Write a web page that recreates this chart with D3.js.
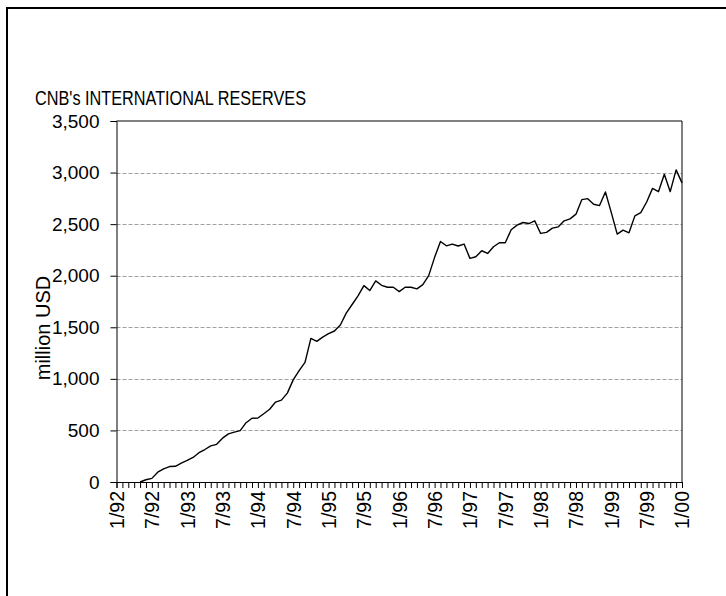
<!DOCTYPE html>
<html>
<head>
<meta charset="utf-8">
<script src="https://cdn.jsdelivr.net/npm/d3@7"></script>
<style>
  html, body { margin: 0; padding: 0; background: #fff; }
  svg { display: block; }
  text { font-family: "Liberation Sans", Arial, sans-serif; fill: #000; }
</style>
</head>
<body>
<svg id="chart" width="726" height="596"></svg>
<script>
// ---- data (monthly, 1/92 .. 1/00; null = no data) ----
const title = "CNB's INTERNATIONAL RESERVES";
const yTitle = "million USD";
const xTickLabels = ["1/92","7/92","1/93","7/93","1/94","7/94","1/95","7/95","1/96","7/96","1/97","7/97","1/98","7/98","1/99","7/99","1/00"];
const yTicks = [0, 500, 1000, 1500, 2000, 2500, 3000, 3500];
const reserves = [
  null, null, null, null, 0, 22, 35, 95, 128, 150,
  152, 183, 209, 238, 284, 315, 350, 365, 425, 466,
  483, 498, 575, 618, 620, 662, 705, 775, 794, 862,
  990, 1080, 1160, 1392, 1364, 1405, 1438, 1464, 1522, 1637,
  1721, 1805, 1904, 1856, 1950, 1907, 1888, 1888, 1846, 1888,
  1888, 1872, 1914, 2001, 2178, 2332, 2290, 2307, 2288, 2307,
  2168, 2184, 2242, 2216, 2281, 2320, 2320, 2446, 2490, 2516,
  2506, 2532, 2410, 2420, 2461, 2474, 2532, 2551, 2597, 2738,
  2747, 2693, 2680, 2812, 2612, 2403, 2442, 2416, 2580, 2612,
  2715, 2847, 2815, 2983, 2815, 3026, 2900
];

const svg = d3.select("#chart");
const plot = { left: 116.5, right: 682, top: 121, bottom: 482 };

const x = d3.scaleLinear().domain([0, reserves.length - 1]).range([plot.left, plot.right]);
const y = d3.scaleLinear().domain([0, 3500]).range([plot.bottom, plot.top]);

// outer frame (right / bottom edges fall outside the picture)
svg.append("rect")
  .attr("x", 7).attr("y", 8).attr("width", 760).attr("height", 640)
  .attr("fill", "none").attr("stroke", "#000").attr("stroke-width", 2);

// title
svg.append("text")
  .attr("x", 35).attr("y", 105)
  .attr("font-size", 21)
  .attr("textLength", 271).attr("lengthAdjust", "spacingAndGlyphs")
  .text(title);

// gridlines
svg.append("g")
  .selectAll("line")
  .data(yTicks.filter(d => d > 0 && d < 3500))
  .join("line")
  .attr("x1", plot.left).attr("x2", plot.right)
  .attr("y1", d => Math.round(y(d)) + 0.5).attr("y2", d => Math.round(y(d)) + 0.5)
  .attr("stroke", "#a0a0a0").attr("stroke-width", 1).attr("stroke-dasharray", "4,2");

// plot frame top + right
svg.append("line")
  .attr("x1", plot.left).attr("x2", plot.right)
  .attr("y1", y(3500)).attr("y2", y(3500))
  .attr("stroke", "#000").attr("stroke-width", 1);
svg.append("line")
  .attr("x1", plot.right).attr("x2", plot.right)
  .attr("y1", y(3500)).attr("y2", y(0))
  .attr("stroke", "#000").attr("stroke-width", 1);

// y axis
const yAxis = d3.axisLeft(y).tickValues(yTicks).tickSize(6).tickPadding(11)
  .tickFormat(d3.format(","));
const gy = svg.append("g").attr("transform", `translate(${plot.left},0)`).call(yAxis);
gy.select(".domain").attr("stroke", "#000");
gy.selectAll(".tick line").attr("stroke", "#000");
gy.selectAll("text").attr("font-size", 19).attr("font-family", "Liberation Sans, Arial, sans-serif").attr("fill", "#000");

// x axis (monthly ticks, labels every 6 months)
const xAxis = d3.axisBottom(x).tickValues(d3.range(0, reserves.length)).tickSize(6)
  .tickFormat(d => d % 6 === 0 ? xTickLabels[d / 6] : "");
const gx = svg.append("g").attr("transform", `translate(0,${plot.bottom})`).call(xAxis);
gx.select(".domain").attr("stroke", "#000");
gx.selectAll(".tick line").attr("stroke", "#000");
gx.selectAll("text")
  .attr("font-size", 19.5).attr("font-family", "Liberation Sans, Arial, sans-serif").attr("fill", "#000")
  .attr("text-anchor", "end")
  .attr("transform", "rotate(-90)")
  .attr("x", -9).attr("y", 0).attr("dy", "0.35em");

// y axis title
svg.append("text")
  .attr("transform", "translate(50,328) rotate(-90)")
  .attr("text-anchor", "middle")
  .attr("font-size", 20)
  .text(yTitle);

// series line
const line = d3.line()
  .defined(d => d != null)
  .x((d, i) => x(i))
  .y(d => y(d));
svg.append("path")
  .datum(reserves)
  .attr("d", line)
  .attr("fill", "none")
  .attr("stroke", "#000")
  .attr("stroke-width", 1.4)
  .attr("stroke-linejoin", "round");
</script>
</body>
</html>
